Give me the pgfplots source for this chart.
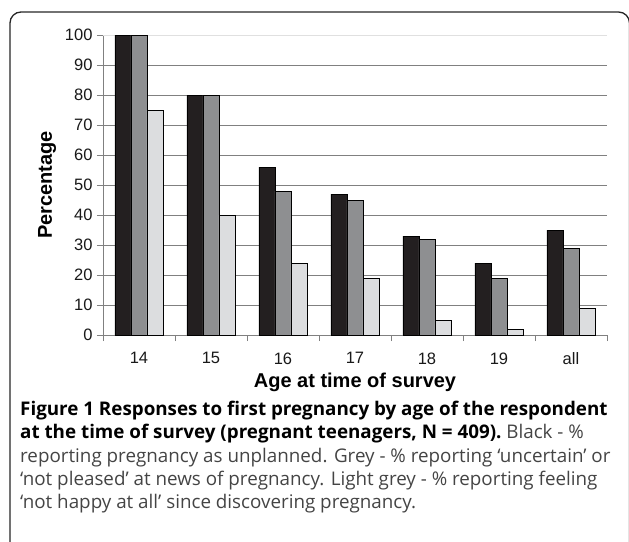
\documentclass[border=0pt]{standalone}
\usepackage{pgfplots}
\pgfplotsset{compat=1.18}
\usepackage{fontspec}
\setmainfont{Liberation Sans}
\newfontfamily\capfont{Open Sans}
\definecolor{barblack}{HTML}{231F20}
\definecolor{bargrey}{HTML}{8E8F91}
\definecolor{barlight}{HTML}{DCDDDF}
\definecolor{gridgrey}{HTML}{808080}
\definecolor{capgrey}{HTML}{444444}
\pgfplotstableread{
x a b c
0 100 100 75
1 80 80 40
2 56 48 24
3 47 45 19
4 33 32 5
5 24 19 2
6 35 29 9
}\datatab
\begin{document}
\begin{tikzpicture}[x=1pt,y=1pt]
\path[use as bounding box] (0,0) rectangle (629,-541);
\begin{scope}
\clip (0,0) rectangle (629,-541);
\draw[line width=1.3pt, black!85, rounded corners=11pt] (10,-12) rectangle (629.5,-560);
\end{scope}
\begin{axis}[
  at={(103pt,-335pt)}, anchor=south west,
  scale only axis, width=504pt, height=300pt,
  xmin=-0.5, xmax=6.5, ymin=0, ymax=100,
  ybar=0pt, bar width=16pt,
  axis x line*=bottom, axis y line*=left,
  axis line style={gridgrey, line width=0.8pt},
  x axis line style={-}, y axis line style={-},
  xtick={0,...,6}, xticklabels={14,15,16,17,18,19,all},
  major x tick style={draw=none},
  minor xtick={-0.5,0.5,...,6.5},
  minor x tick style={gridgrey, line width=0.8pt},
  minor tick length=6pt,
  xtick pos=bottom, tick align=outside,
  ytick={0,10,...,90},
  extra y ticks={100},
  extra y tick style={grid style={draw=black!12, line width=1pt}},
  ymajorgrids, grid style={gridgrey, line width=1pt},
  major y tick style={gridgrey, line width=0.8pt},
  major tick length=6pt,
  ytick pos=left,
  /pgf/number format/assume math mode=true,
  tick label style={font=\fontsize{16.5}{18}\selectfont, text=black!90},
  yticklabel style={xshift=-1pt},
  xticklabel style={yshift=-8pt},
  xlabel={\bfseries Age at time of survey},
  xlabel style={font=\fontsize{20}{22}\selectfont, yshift=-1pt},
  ylabel={\bfseries Percentage},
  ylabel style={font=\fontsize{20}{22}\selectfont, yshift=-4pt},
  clip=false,
]
\addplot[fill=barblack, draw=black, line width=0.9pt] table[x=x,y=a]{\datatab};
\addplot[fill=bargrey, draw=black, line width=0.9pt] table[x=x,y=b]{\datatab};
\addplot[fill=barlight, draw=black, line width=0.9pt] table[x=x,y=c]{\datatab};
\end{axis}
\begin{scope}[every node/.style={anchor=base west, inner sep=0pt, font=\capfont\fontsize{18.8}{22}\selectfont}]
\node at (20,-415) {\bfseries Figure 1 Responses to first pregnancy by age of the respondent};
\node at (20,-438.5) {\bfseries at the time of survey (pregnant teenagers, N = 409).\mdseries\color{capgrey}\ Black - \%};
\node[text=capgrey] at (20,-462) {reporting pregnancy as unplanned. Grey - \% reporting ‘uncertain’ or};
\node[text=capgrey] at (20,-485) {‘not pleased’ at news of pregnancy. Light grey - \% reporting feeling};
\node[text=capgrey] at (20,-508) {‘not happy at all’ since discovering pregnancy.};
\end{scope}
\end{tikzpicture}
\end{document}
